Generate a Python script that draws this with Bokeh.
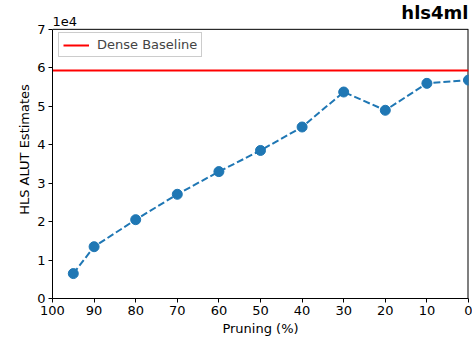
from bokeh.plotting import figure
from bokeh.models import Range1d, FixedTicker, CustomJSTickFormatter, Label, Legend, LegendItem, Title
from bokeh.embed import file_html
from bokeh.resources import INLINE

pruning = [95, 90, 80, 70, 60, 50, 40, 30, 20, 10, 0]
alut = [6480, 13470, 20500, 27100, 33000, 38500, 44600, 53700, 48950, 55950, 56800]
dense_baseline = 59300
x_ticks = [0, 10, 20, 30, 40, 50, 60, 70, 80, 90, 100]
y_ticks = [0, 10000, 20000, 30000, 40000, 50000, 60000, 70000]
title_text = "hls4ml"
offset_text = "1e4"

FONT = "DejaVu Sans"
Y_TOP = 70000

p = figure(width=472, height=341, output_backend="svg", toolbar_location=None,
           x_range=Range1d(100, 0), y_range=Range1d(0, 77500),
           min_border_left=52, min_border_right=4, min_border_top=0, min_border_bottom=43)
p.title.visible = False

p.xgrid.visible = False
p.ygrid.visible = False
p.outline_line_color = None
p.background_fill_color = "white"
p.border_fill_color = "white"

for ax in (p.xaxis[0], p.yaxis[0]):
    ax.axis_line_color = "black"
    ax.major_tick_line_color = "black"
    ax.minor_tick_line_color = None
    ax.major_tick_out = 4
    ax.major_tick_in = 0
    ax.major_label_text_font = FONT
    ax.major_label_text_font_size = "13px"
    ax.major_label_text_color = "black"
    ax.axis_label_text_font = FONT
    ax.axis_label_text_font_size = "13px"
    ax.axis_label_text_font_style = "normal"
    ax.axis_label_text_color = "black"

p.xaxis.ticker = FixedTicker(ticks=x_ticks)
p.yaxis.ticker = FixedTicker(ticks=y_ticks)
p.yaxis.bounds = (0, Y_TOP)
p.yaxis.formatter = CustomJSTickFormatter(code="return (tick/1e4).toFixed(0);")
p.xaxis.axis_label = "Pruning (%)"
p.xaxis.major_label_standoff = 3
p.yaxis.major_label_standoff = 3
p.xaxis.axis_label_standoff = 3

# y-axis title, centred on the 0..7 box rather than the whole frame
p.add_layout(Title(text="HLS ALUT Estimates", align="center", offset=-14, standoff=6,
                   text_font=FONT, text_font_size="13px", text_font_style="normal",
                   text_color="black"), "left")

# top and right spines of the axes box
p.segment(x0=[100], y0=[Y_TOP], x1=[0], y1=[Y_TOP], line_color="black", line_width=1)
p.segment(x0=[0], y0=[0], x1=[0], y1=[Y_TOP], line_color="black", line_width=2)

base = p.line(x=[100, 0], y=[dense_baseline, dense_baseline], line_color="#ff0000", line_width=2)
p.line(x=pruning, y=alut, line_color="#1f77b4", line_width=2, line_dash="7 3")
p.scatter(x=pruning, y=alut, size=10, fill_color="#1f77b4", line_color="#1f77b4")

p.add_layout(Label(x=100, y=Y_TOP, y_offset=3, text=offset_text,
                   text_font=FONT, text_font_size="13px", text_color="black",
                   text_align="left", text_baseline="bottom"))
p.add_layout(Label(x=0, y=Y_TOP, y_offset=6, text=title_text,
                   text_font=FONT, text_font_size="18px", text_font_style="bold",
                   text_color="black", text_align="right", text_baseline="bottom"))

legend = Legend(items=[LegendItem(label="Dense Baseline", renderers=[base])],
                location=(6, 241), margin=0, padding=4,
                label_text_font=FONT, label_text_font_size="13px",
                label_height=14, glyph_height=14, glyph_width=26, label_standoff=8,
                border_line_color="#cccccc", border_line_alpha=1.0,
                background_fill_alpha=0.8)
p.add_layout(legend)

open("out.html", "w").write(file_html(p, INLINE))
